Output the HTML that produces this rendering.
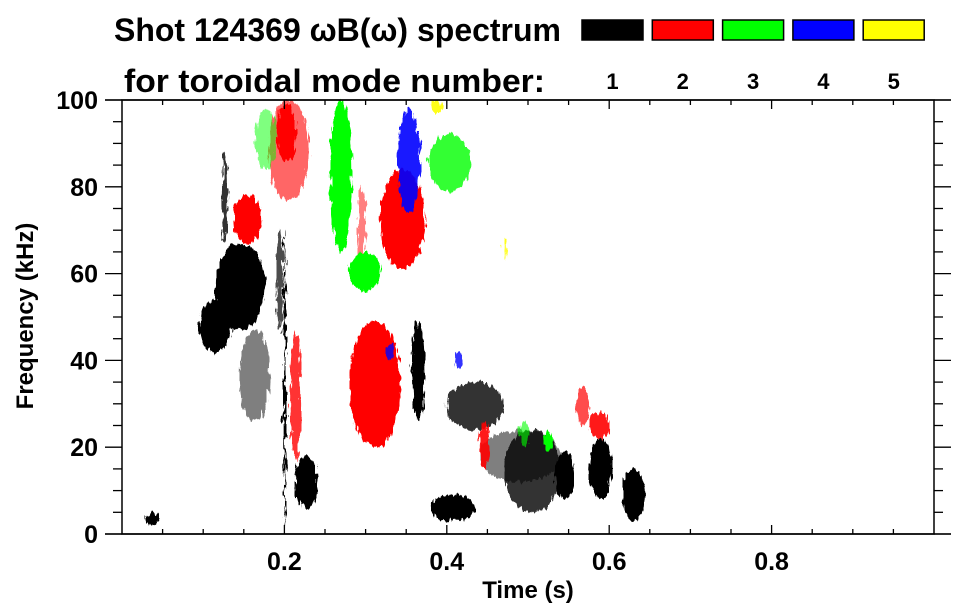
<!DOCTYPE html>
<html><head><meta charset="utf-8">
<style>
body{margin:0;background:#fff;}
svg{display:block;font-family:"Liberation Sans",Arial,sans-serif;font-weight:bold;}
</style></head>
<body>
<svg id="chart" width="963" height="615" viewBox="0 0 963 615" xmlns="http://www.w3.org/2000/svg">
<defs>
<filter id="rough" x="-20%" y="-20%" width="140%" height="140%">
<feTurbulence type="fractalNoise" baseFrequency="0.35 0.08" numOctaves="2" seed="3" result="n"/>
<feDisplacementMap in="SourceGraphic" in2="n" scale="9" xChannelSelector="R" yChannelSelector="G"/>
</filter>
</defs>
<g>
<text x="114" y="41" font-size="32" textLength="447" lengthAdjust="spacingAndGlyphs">Shot 124369 ωB(ω) spectrum</text>
<text x="124" y="92" font-size="32" textLength="421" lengthAdjust="spacingAndGlyphs">for toroidal mode number:</text>
</g>
<g id="legend"></g>
<g id="marks" filter="url(#rough)"></g>
<g id="axes"></g>
</svg>
<script>
// mode colours and legend labels
const modeNumbers = [1, 2, 3, 4, 5];
const modeColors = ['#000000', '#ff0000', '#00ff00', '#0000ff', '#ffff00'];
// x axis (time, s)
const xTicks = [0.2, 0.4, 0.6, 0.8];
const xTickLabels = ['0.2', '0.4', '0.6', '0.8'];
// y axis (frequency, kHz)
const yTicks = [0, 20, 40, 60, 80, 100];
const yTickLabels = ['0', '20', '40', '60', '80', '100'];
// spectral blobs: time start/end (s), freq start/end (kHz), mode index, density
const blobT0 = [0.094,0.115,0.123,0.145,0.190,0.199,0.213,0.357,0.400,0.380,0.470,0.533,0.576,0.616,0.030,0.440,
                0.137,0.180,0.190,0.207,0.280,0.300,0.318,0.440,0.576,0.560,0.290,
                0.256,0.280,0.377,0.164,0.520,0.490,
                0.340,0.325,0.410,
                0.380,0.470];
const blobT1 = [0.135,0.176,0.130,0.182,0.198,0.202,0.241,0.373,0.470,0.435,0.540,0.558,0.603,0.644,0.045,0.540,
                0.172,0.230,0.215,0.220,0.343,0.330,0.373,0.453,0.600,0.575,0.300,
                0.283,0.318,0.430,0.190,0.530,0.500,
                0.367,0.335,0.420,
                0.395,0.474];
const blobF0 = [42,47,67,26,47,1,6,26,24,3,5,8,8,3,2,12,
                67,77,86,17,20,28,61,15,22,25,60,
                65,56,79,84,19,20,
                74,40,38,
                97,63];
const blobF1 = [54,67,88,47,70,70,18,49,35,9,24,19,22,15,5,24,
                78,100,99,47,49,42,84,26,28,34,80,
                100,65,92,98,24,26,
                98,44,42,
                100,68];
const blobMode = [0,0,0,0,0,0,0,0,0,0,0,0,0,0,0,0,
                  1,1,1,1,1,1,1,1,1,1,1,
                  2,2,2,2,2,2,
                  3,3,3,
                  4,4];
const blobDensity = [1,1,0.8,0.5,0.7,1,1,1,0.8,1,0.8,1,1,1,1,0.5,
                     1,0.6,1,0.8,1,1,1,0.9,0.9,0.7,0.5,
                     1,1,0.8,0.5,1,0.6,
                     0.9,0.8,0.8,
                     0.9,0.9];

const L=122,R=934,T=100,B=534;
const xs=t=>L+(R-L)*t;
const ys=f=>B-(B-T)*f/100;
const NS='http://www.w3.org/2000/svg';
function mk(tag,attrs,parent){const e=document.createElementNS(NS,tag);for(const k in attrs)e.setAttribute(k,attrs[k]);parent.appendChild(e);return e;}

// legend
const lg=document.getElementById('legend');
modeNumbers.forEach((m,i)=>{
  const x0=582+i*70.3;
  const r=mk('rect',{x:x0,y:20,width:61,height:20,fill:modeColors[i],stroke:'#000','stroke-width':1.5},lg);
  
  
  const t=mk('text',{x:x0+30.5,y:89,'font-size':22,'text-anchor':'middle'},lg);
  t.textContent=m;
  
  
});

// blobs
const mg=document.getElementById('marks');
blobT0.forEach((t0,i)=>{
  const x0=xs(t0),x1=xs(blobT1[i]),y0=ys(blobF1[i]),y1=ys(blobF0[i]);
  const e=mk('ellipse',{cx:(x0+x1)/2,cy:(y0+y1)/2,rx:(x1-x0)/2,ry:(y1-y0)/2,fill:modeColors[blobMode[i]],'fill-opacity':blobDensity[i]},mg);
  
  
});

// axes
const ax=document.getElementById('axes');
mk('rect',{x:L,y:T,width:R-L,height:B-T,fill:'none',stroke:'#000','stroke-width':1.5},ax);
mk('line',{x1:105,y1:B,x2:951,y2:B,stroke:'#000','stroke-width':1.5},ax);
mk('line',{x1:105,y1:T,x2:951,y2:T,stroke:'#000','stroke-width':1.5},ax);
for(let f=0;f<=100;f+=5){
  const y=ys(f),len=(f%20===0)?17:9;
  mk('line',{x1:L-len,y1:y,x2:L,y2:y,stroke:'#000','stroke-width':1.3},ax);
  mk('line',{x1:R,y1:y,x2:R+len,y2:y,stroke:'#000','stroke-width':1.3},ax);
}
for(let k=1;k<20;k++){
  const t=k*0.05,x=xs(t),len=(k%4===0)?9:5;
  mk('line',{x1:x,y1:B-len,x2:x,y2:B,stroke:'#000','stroke-width':1.3},ax);
  mk('line',{x1:x,y1:T,x2:x,y2:T+len,stroke:'#000','stroke-width':1.3},ax);
}
xTicks.forEach((v,i)=>{
  const t=mk('text',{x:xs(v),y:570,'font-size':25,'text-anchor':'middle'},ax);
  t.textContent=xTickLabels[i];
  
  
});
yTicks.forEach((v,i)=>{
  const t=mk('text',{x:98,y:ys(v)+9,'font-size':25,'text-anchor':'end'},ax);
  t.textContent=yTickLabels[i];
  
  
});
const xt=mk('text',{x:528,y:598,'font-size':24,'text-anchor':'middle'},ax);
xt.textContent='Time (s)';


const yt=mk('text',{x:0,y:0,'font-size':24,'text-anchor':'middle',transform:'translate(33,316) rotate(-90)'},ax);
yt.textContent='Frequency (kHz)';


</script>
</body></html>
